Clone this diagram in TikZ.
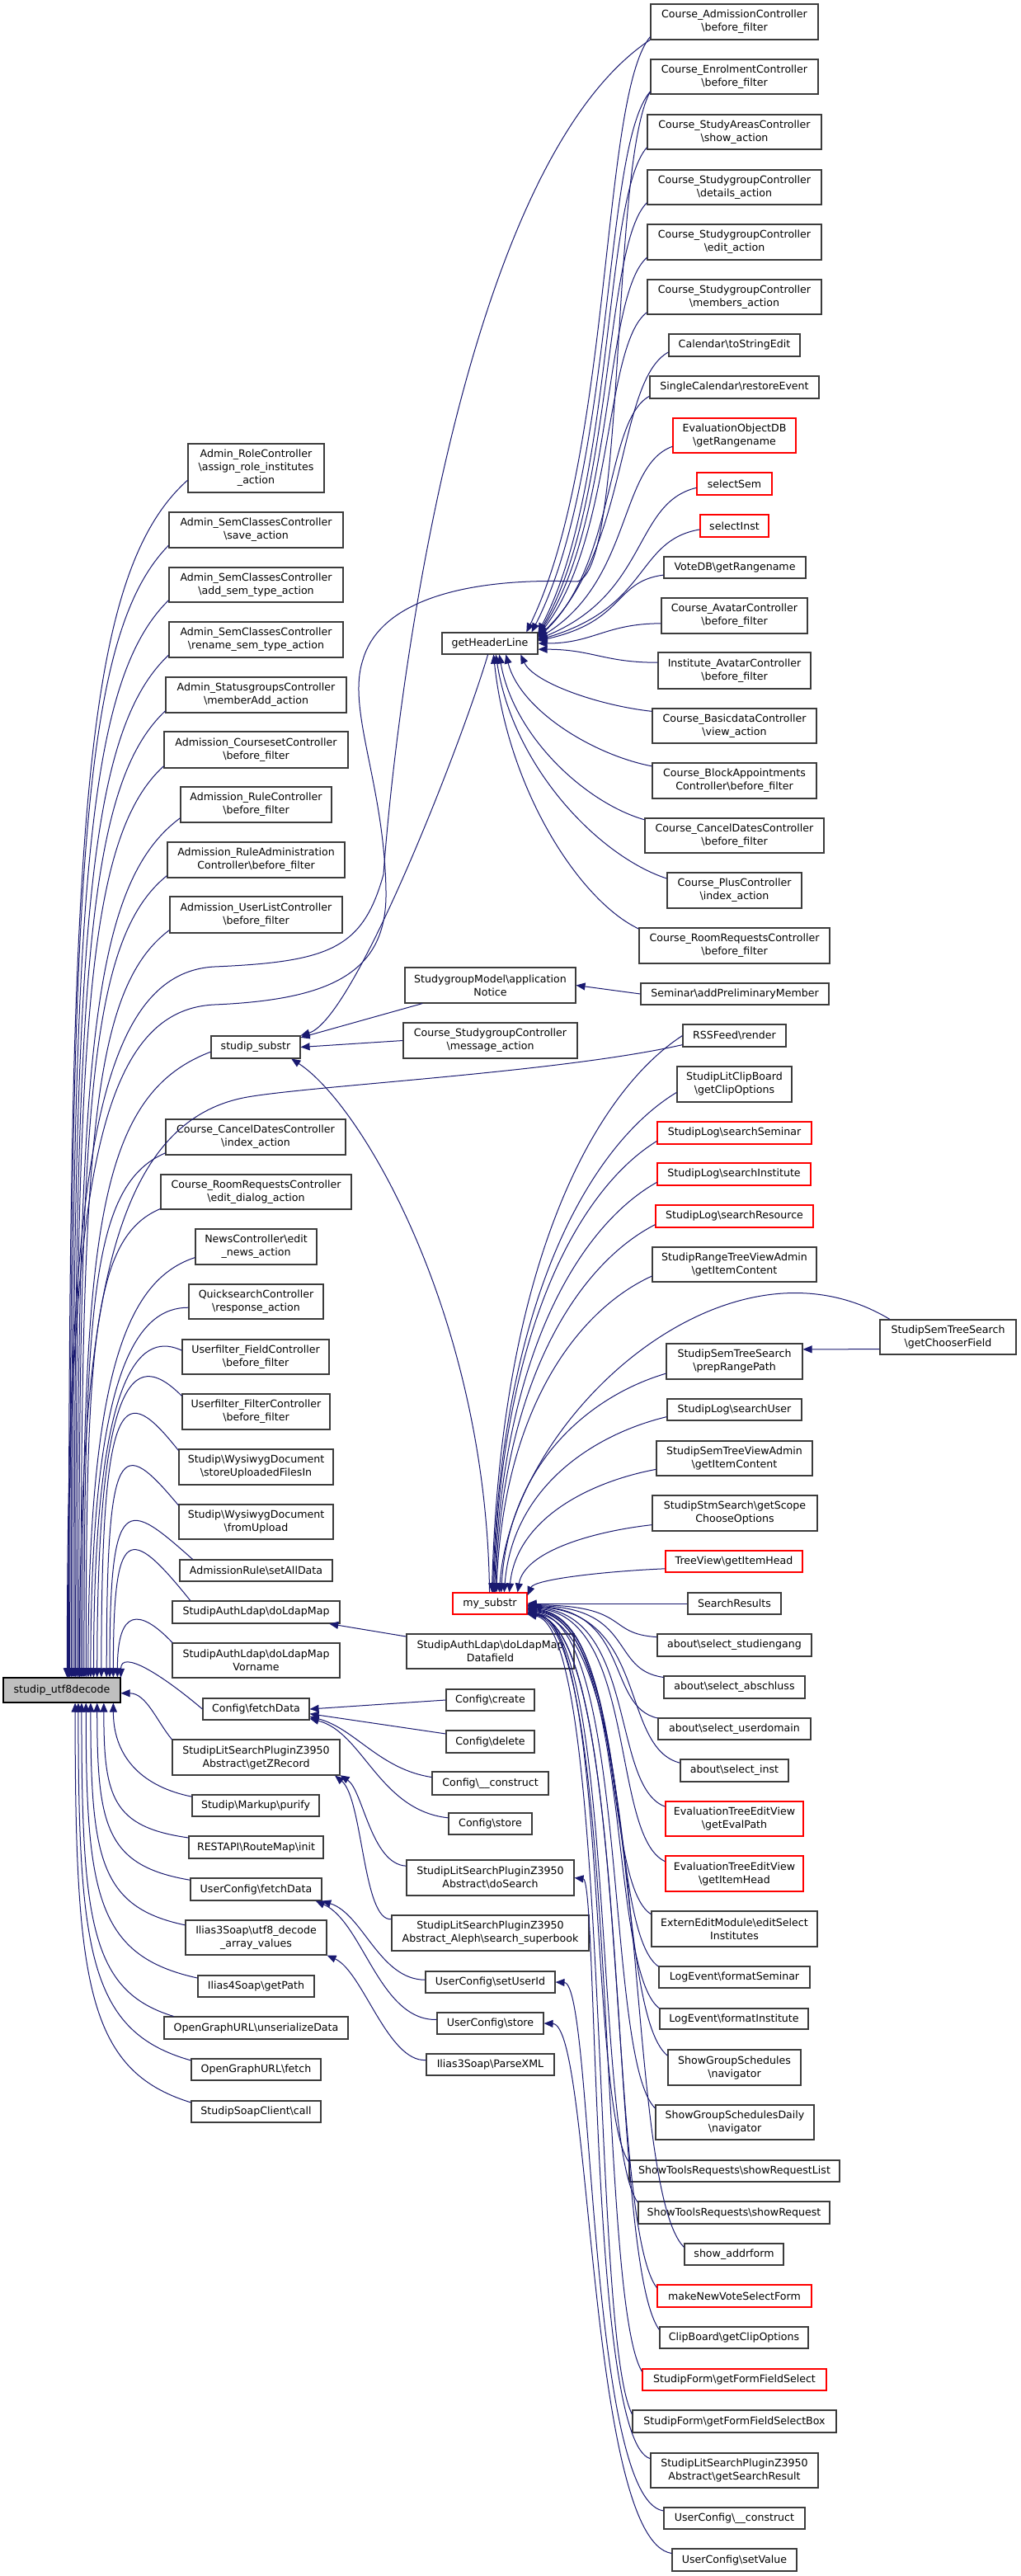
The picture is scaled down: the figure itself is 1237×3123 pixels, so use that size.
\documentclass[tikz,border=0pt]{standalone}
\usepackage{fontspec}
\setmainfont{DejaVu Sans}
\usetikzlibrary{arrows.meta,calc}
\definecolor{edgec}{RGB}{25,25,112}
\definecolor{bordc}{RGB}{60,60,60}
\definecolor{redc}{RGB}{255,0,0}
\definecolor{grayf}{RGB}{191,191,191}
\tikzset{
  box/.style={draw=bordc,line width=1.1pt,fill=white,inner sep=0pt,align=center,
    font={\fontsize{12.6}{16}\selectfont},text=black},
  redbox/.style={draw=redc},
  rootbox/.style={fill=grayf,draw=black},
  cedge/.style={draw=edgec,line width=1pt,arrows={Triangle[length=11pt,width=9pt]-}}
}
\newcommand\nd[7][]{\node[box,#1,minimum width={#5-#3},minimum height={#6-#4}] (#2) at ({(#3+#5)/2},{(#4+#6)/2}) {#7};}
\newcommand\edg[6]{\draw[cedge] let \p1=(#1), \p2=(#2) in (\p1) .. controls ({\x1+(#3)*((\x2)-(\x1))},{\y1+(#4)*((\y2)-(\y1))}) and ({\x2-(#5)*((\x2)-(\x1))},{\y2-(#6)*((\y2)-(\y1))}) .. (\p2);}
\newcommand\eG[2]{\edg{#1}{#2}{0.7}{0.3}{0.4}{0.1}}
\newcommand\eH[2]{\edg{#1}{#2}{0.45}{0}{0.45}{0}}
\newcommand\eD[2]{\edg{#1}{#2}{0.1}{0.5}{0.4}{0.1}}
\newcommand\eT[2]{\edg{#1}{#2}{0.05}{0.6}{0.45}{0.1}}
\newcommand\eB[2]{\edg{#1}{#2}{0.8}{0.02}{0.4}{0.1}}
\newcommand\eF[2]{\edg{#1}{#2}{0}{0.7}{0.9}{0.08}}
\begin{document}
\begin{tikzpicture}[x=1pt,y=-1pt]
\useasboundingbox (0,0) rectangle (1237,3123);
\fill[white] (0,0) rectangle (1237,3123);
% ---- column A
\nd[rootbox]{A}{4}{2034}{146}{2064}{studip\_utf8decode}
% ---- column B
\nd{b1}{228}{538}{393}{597}{Admin\_RoleController\\\textbackslash assign\_role\_institutes\\\_action}
\nd{b2}{205}{621}{416}{664}{Admin\_SemClassesController\\\textbackslash save\_action}
\nd{b3}{205}{688}{416}{730}{Admin\_SemClassesController\\\textbackslash add\_sem\_type\_action}
\nd{b4}{205}{754}{416}{797}{Admin\_SemClassesController\\\textbackslash rename\_sem\_type\_action}
\nd{b5}{201}{821}{420}{864}{Admin\_StatusgroupsController\\\textbackslash memberAdd\_action}
\nd{b6}{199}{887}{422}{931}{Admission\_CoursesetController\\\textbackslash before\_filter}
\nd{b7}{219}{954}{402}{997}{Admission\_RuleController\\\textbackslash before\_filter}
\nd{b8}{203}{1021}{418}{1064}{Admission\_RuleAdministration\\Controller\textbackslash before\_filter}
\nd{b9}{206}{1087}{415}{1131}{Admission\_UserListController\\\textbackslash before\_filter}
\nd{bs}{256}{1256}{364}{1283}{studip\_substr}
\nd{b10}{201}{1357}{419}{1400}{Course\_CancelDatesController\\\textbackslash index\_action}
\nd{b11}{195}{1424}{426}{1466}{Course\_RoomRequestsController\\\textbackslash edit\_dialog\_action}
\nd{b12}{237}{1490}{384}{1533}{NewsController\textbackslash edit\\\_news\_action}
\nd{b13}{229}{1557}{392}{1599}{QuicksearchController\\\textbackslash response\_action}
\nd{b14}{221}{1624}{399}{1666}{Userfilter\_FieldController\\\textbackslash before\_filter}
\nd{b15}{221}{1690}{400}{1733}{Userfilter\_FilterController\\\textbackslash before\_filter}
\nd{b16}{217}{1757}{404}{1800}{Studip\textbackslash WysiwygDocument\\\textbackslash storeUploadedFilesIn}
\nd{b17}{217}{1824}{404}{1866}{Studip\textbackslash WysiwygDocument\\\textbackslash fromUpload}
\nd{b18}{218}{1891}{403}{1917}{AdmissionRule\textbackslash setAllData}
\nd{b19}{209}{1941}{412}{1968}{StudipAuthLdap\textbackslash doLdapMap}
\nd{b20}{209}{1992}{412}{2034}{StudipAuthLdap\textbackslash doLdapMap\\Vorname}
\nd{bc}{246}{2059}{375}{2085}{Config\textbackslash fetchData}
\nd{b22}{209}{2109}{412}{2152}{StudipLitSearchPluginZ3950\\Abstract\textbackslash getZRecord}
\nd{b23}{233}{2176}{387}{2202}{Studip\textbackslash Markup\textbackslash purify}
\nd{b24}{229}{2226}{392}{2253}{RESTAPI\textbackslash RouteMap\textbackslash init}
\nd{bu}{231}{2277}{390}{2304}{UserConfig\textbackslash fetchData}
\nd{bi}{225}{2328}{396}{2370}{Ilias3Soap\textbackslash utf8\_decode\\\_array\_values}
\nd{b27}{240}{2395}{381}{2421}{Ilias4Soap\textbackslash getPath}
\nd{b28}{199}{2445}{422}{2472}{OpenGraphURL\textbackslash unserializeData}
\nd{b29}{232}{2496}{389}{2522}{OpenGraphURL\textbackslash fetch}
\nd{b30}{232}{2547}{389}{2573}{StudipSoapClient\textbackslash call}
% ---- column C
\nd{gh}{536}{767}{652}{793}{getHeaderLine}
\nd{sm}{491}{1173}{698}{1216}{StudygroupModel\textbackslash application\\Notice}
\nd{cm}{489}{1240}{700}{1283}{Course\_StudygroupController\\\textbackslash message\_action}
\nd[redbox]{ms}{549}{1931}{639}{1957}{my\_substr}
\nd{dd}{493}{1981}{696}{2023}{StudipAuthLdap\textbackslash doLdapMap\\Datafield}
\nd{cc}{541}{2048}{648}{2074}{Config\textbackslash create}
\nd{cd}{541}{2098}{648}{2125}{Config\textbackslash delete}
\nd{ck}{524}{2148}{665}{2176}{Config\textbackslash \_\_construct}
\nd{cs}{544}{2198}{645}{2224}{Config\textbackslash store}
\nd{zs}{493}{2255}{696}{2298}{StudipLitSearchPluginZ3950\\Abstract\textbackslash doSearch}
\nd{za}{475}{2322}{714}{2365}{StudipLitSearchPluginZ3950\\Abstract\_Aleph\textbackslash search\_superbook}
\nd{us}{516}{2390}{673}{2416}{UserConfig\textbackslash setUserId}
\nd{ut}{530}{2440}{659}{2466}{UserConfig\textbackslash store}
\nd{ip}{517}{2490}{672}{2516}{Ilias3Soap\textbackslash ParseXML}
% ---- column D
\nd{d1}{789}{5}{992}{48}{Course\_AdmissionController\\\textbackslash before\_filter}
\nd{d2}{789}{72}{992}{114}{Course\_EnrolmentController\\\textbackslash before\_filter}
\nd{d3}{785}{139}{996}{181}{Course\_StudyAreasController\\\textbackslash show\_action}
\nd{d4}{785}{206}{996}{248}{Course\_StudygroupController\\\textbackslash details\_action}
\nd{d5}{785}{272}{996}{315}{Course\_StudygroupController\\\textbackslash edit\_action}
\nd{d6}{785}{339}{996}{381}{Course\_StudygroupController\\\textbackslash members\_action}
\nd{d7}{811}{405}{970}{432}{Calendar\textbackslash toStringEdit}
\nd{d8}{788}{456}{993}{483}{SingleCalendar\textbackslash restoreEvent}
\nd[redbox]{d9}{816}{507}{965}{549}{EvaluationObjectDB\\\textbackslash getRangename}
\nd[redbox]{d10}{845}{573}{936}{600}{selectSem}
\nd[redbox]{d11}{849}{624}{932}{651}{selectInst}
\nd{d12}{805}{675}{977}{701}{VoteDB\textbackslash getRangename}
\nd{d13}{802}{725}{979}{768}{Course\_AvatarController\\\textbackslash before\_filter}
\nd{d14}{798}{791}{983}{835}{Institute\_AvatarController\\\textbackslash before\_filter}
\nd{d15}{791}{859}{990}{901}{Course\_BasicdataController\\\textbackslash view\_action}
\nd{d16}{791}{925}{990}{968}{Course\_BlockAppointments\\Controller\textbackslash before\_filter}
\nd{d17}{782}{992}{999}{1034}{Course\_CancelDatesController\\\textbackslash before\_filter}
\nd{d18}{809}{1058}{972}{1101}{Course\_PlusController\\\textbackslash index\_action}
\nd{d19}{775}{1125}{1006}{1168}{Course\_RoomRequestsController\\\textbackslash before\_filter}
\nd{d20}{777}{1192}{1005}{1218}{Seminar\textbackslash addPreliminaryMember}
\nd{d21}{828}{1242}{953}{1269}{RSSFeed\textbackslash render}
\nd{d22}{821}{1293}{960}{1336}{StudipLitClipBoard\\\textbackslash getClipOptions}
\nd[redbox]{d23}{797}{1360}{984}{1387}{StudipLog\textbackslash searchSeminar}
\nd[redbox]{d24}{797}{1410}{983}{1437}{StudipLog\textbackslash searchInstitute}
\nd[redbox]{d25}{795}{1461}{986}{1488}{StudipLog\textbackslash searchResource}
\nd{d26}{791}{1512}{990}{1554}{StudipRangeTreeViewAdmin\\\textbackslash getItemContent}
\nd{d27}{808}{1629}{973}{1672}{StudipSemTreeSearch\\\textbackslash prepRangePath}
\nd{d28}{809}{1696}{972}{1722}{StudipLog\textbackslash searchUser}
\nd{d29}{796}{1747}{985}{1789}{StudipSemTreeViewAdmin\\\textbackslash getItemContent}
\nd{d30}{791}{1813}{991}{1856}{StudipStmSearch\textbackslash getScope\\ChooseOptions}
\nd[redbox]{d31}{807}{1880}{973}{1906}{TreeView\textbackslash getItemHead}
\nd{d32}{834}{1931}{947}{1957}{SearchResults}
\nd{d33}{797}{1981}{984}{2008}{about\textbackslash select\_studiengang}
\nd{d34}{805}{2032}{976}{2059}{about\textbackslash select\_abschluss}
\nd{d35}{798}{2083}{983}{2109}{about\textbackslash select\_userdomain}
\nd{d36}{825}{2133}{956}{2160}{about\textbackslash select\_inst}
\nd[redbox]{d37}{807}{2184}{974}{2226}{EvaluationTreeEditView\\\textbackslash getEvalPath}
\nd[redbox]{d38}{807}{2250}{974}{2293}{EvaluationTreeEditView\\\textbackslash getItemHead}
\nd{d39}{790}{2317}{991}{2360}{ExternEditModule\textbackslash editSelect\\Institutes}
\nd{d40}{799}{2384}{982}{2410}{LogEvent\textbackslash formatSeminar}
\nd{d41}{800}{2435}{980}{2460}{LogEvent\textbackslash formatInstitute}
\nd{d42}{810}{2485}{971}{2528}{ShowGroupSchedules\\\textbackslash navigator}
\nd{d43}{795}{2552}{987}{2594}{ShowGroupSchedulesDaily\\\textbackslash navigator}
\nd{d44}{763}{2619}{1018}{2645}{ShowToolsRequests\textbackslash showRequestList}
\nd{d45}{774}{2669}{1006}{2696}{ShowToolsRequests\textbackslash showRequest}
\nd{d46}{830}{2720}{950}{2746}{show\_addrform}
\nd[redbox]{d47}{797}{2770}{984}{2797}{makeNewVoteSelectForm}
\nd{d48}{800}{2821}{980}{2847}{ClipBoard\textbackslash getClipOptions}
\nd[redbox]{d49}{779}{2872}{1002}{2898}{StudipForm\textbackslash getFormFieldSelect}
\nd{d50}{767}{2922}{1014}{2949}{StudipForm\textbackslash getFormFieldSelectBox}
\nd{d51}{789}{2974}{992}{3016}{StudipLitSearchPluginZ3950\\Abstract\textbackslash getSearchResult}
\nd{d52}{805}{3040}{976}{3066}{UserConfig\textbackslash \_\_construct}
\nd{d53}{815}{3090}{966}{3117}{UserConfig\textbackslash setValue}
% ---- column E
\nd{e1}{1067}{1600}{1232}{1642}{StudipSemTreeSearch\\\textbackslash getChooserField}
% ================= edges into studip_utf8decode
\eF{A.62}{b1.190}
\eF{A.58}{b2.190}
\eF{A.54}{b3.190}
\eF{A.50}{b4.190}
\eF{A.46}{b5.190}
\eF{A.43}{b6.190}
\eF{A.40}{b7.190}
\eF{A.37}{b8.190}
\eF{A.34}{b9.190}
\edg{A.32}{bs.186}{0}{0.7}{0.9}{0.07}
\edg{A.30}{b10.190}{0}{0.72}{0.9}{0.06}
\edg{A.28}{b11.190}{0}{0.72}{0.9}{0.06}
\edg{A.26}{b12.190}{0}{0.75}{0.6}{0.05}
\edg{A.24}{b13.185}{0}{0.85}{0.5}{0}
\edg{A.22}{b14.175}{0}{1.0}{0.4}{-0.05}
\edg{A.20}{b15.168}{0}{1.15}{0.5}{-0.15}
\edg{A.18}{b16.168}{0}{1.3}{0.7}{-0.3}
\edg{A.16.5}{b17.168}{0}{1.4}{0.8}{-0.4}
\edg{A.15}{b18.170}{0}{1.6}{0.8}{-0.5}
\edg{A.14}{b19.170}{0}{2.0}{0.8}{-1.0}
\edg{A.13}{b20.168}{0}{2.0}{0.6}{-1.0}
\edg{A.12}{bc.west}{0}{-0.9}{0.5}{1.1}
\edg{A.-3}{b22.168}{0.5}{0}{0.3}{0.4}
\edg{A.-14}{b23.172}{0}{0.6}{0.6}{0.1}
\eF{A.-17}{b24.172}
\eF{A.-20}{bu.172}
\eF{A.-24}{bi.170}
\eF{A.-28}{b27.172}
\eF{A.-33}{b28.172}
\eF{A.-38}{b29.172}
\eF{A.-44}{b30.172}
% long edges from far callers
\draw[cedge] (A.68) .. controls (82,1450) and (110,1180) .. (260,1172) .. controls (400,1166) and (440,1150) .. (465,1060) .. controls (480,850) and (560,200) .. (d1.192);
\draw[cedge] (A.65) .. controls (83,1470) and (110,1225) .. (260,1218) .. controls (400,1212) and (470,1180) .. (468,1080) .. controls (466,950) and (420,860) .. (440,800) .. controls (460,730) and (560,700) .. (700,705) .. controls (760,690) and (740,200) .. (d2.190);
\draw[cedge] (A.36) .. controls (97,1600) and (130,1360) .. (300,1330) .. controls (380,1316) and (680,1300) .. (d21.190);
% ================= edges into getHeaderLine
\eG{gh.17}{d1.190}
\eG{gh.15}{d2.190}
\eG{gh.13}{d3.190}
\eG{gh.11}{d4.190}
\eG{gh.10}{d5.190}
\eG{gh.9}{d6.190}
\eG{gh.8}{d7.186}
\eG{gh.7}{d8.186}
\eG{gh.6}{d9.190}
\eG{gh.5}{d10.186}
\eG{gh.4}{d11.186}
\eG{gh.3}{d12.186}
\eH{gh.0}{d13.186}
\eH{gh.-7}{d14.174}
\eD{gh.-20}{d15.170}
\eD{gh.-35}{d16.170}
\eD{gh.-50}{d17.170}
\eD{gh.-62}{d18.170}
\eD{gh.-72}{d19.170}
% ================= edges into studip_substr
\draw[cedge] (bs.north east) .. controls (430,1235) and (560,900) .. (gh.-100);
\draw[cedge] (bs.12) -- (sm.195);
\draw[cedge] (bs.east) -- (cm.west);
\draw[cedge] (bs.-18) .. controls (440,1340) and (590,1600) .. (ms.92);
\draw[cedge] (sm.east) -- (d20.west);
% ================= edges into my_substr
\eT{ms.80}{d21.180}
\eT{ms.76}{d22.188}
\eT{ms.72}{d23.186}
\eT{ms.68}{d24.186}
\eT{ms.64}{d25.186}
\eT{ms.60}{d26.188}
\draw[cedge] (ms.50) .. controls (620,1720) and (880,1480) .. (e1.163);
\eT{ms.45}{d27.190}
\eT{ms.38}{d28.186}
\eT{ms.30}{d29.188}
\eT{ms.22}{d30.188}
\eT{ms.12}{d31.186}
\draw[cedge] (ms.east) -- (d32.west);
\eB{ms.-2}{d33.174}
\eB{ms.-3}{d34.172}
\eB{ms.-4}{d35.172}
\eB{ms.-5}{d36.172}
\eB{ms.-6}{d37.170}
\eB{ms.-7}{d38.170}
\eB{ms.-8}{d39.170}
\eB{ms.-9}{d40.172}
\eB{ms.-10}{d41.172}
\eB{ms.-11}{d42.170}
\eB{ms.-12}{d43.170}
\eB{ms.-13}{d44.175}
\eB{ms.-14}{d45.174}
\eB{ms.-14}{d46.172}
\eB{ms.-15}{d47.174}
\eB{ms.-15}{d48.174}
\eB{ms.-15.5}{d49.175}
\eB{ms.-16}{d50.176}
% ================= other edges
\draw[cedge] (b19.-9) -- (dd.170);
\draw[cedge] (bc.east) -- (cc.west);
\draw[cedge] (bc.-5) -- (cd.170);
\draw[cedge] (bc.-8) .. controls (430,2095) and (460,2145) .. (ck.174);
\draw[cedge] (bc.-10) .. controls (440,2100) and (460,2195) .. (cs.172);
\draw[cedge] (b22.-12) .. controls (440,2170) and (450,2260) .. (zs.172);
\draw[cedge] (b22.-13) .. controls (440,2180) and (440,2330) .. (za.172);
\draw[cedge] (bu.-10) .. controls (440,2320) and (460,2400) .. (us.178);
\draw[cedge] (bu.-11) .. controls (440,2330) and (460,2450) .. (ut.176);
\draw[cedge] (bi.-14) .. controls (440,2390) and (470,2500) .. (ip.176);
\draw[cedge] (d27.10) -- (e1.190);
\draw[cedge] (zs.east) .. controls (725,2280) and (715,2960) .. (d51.172);
\draw[cedge] (us.east) .. controls (720,2405) and (712,3030) .. (d52.174);
\draw[cedge] (ut.east) .. controls (718,2455) and (712,3080) .. (d53.174);
\end{tikzpicture}
\end{document}
